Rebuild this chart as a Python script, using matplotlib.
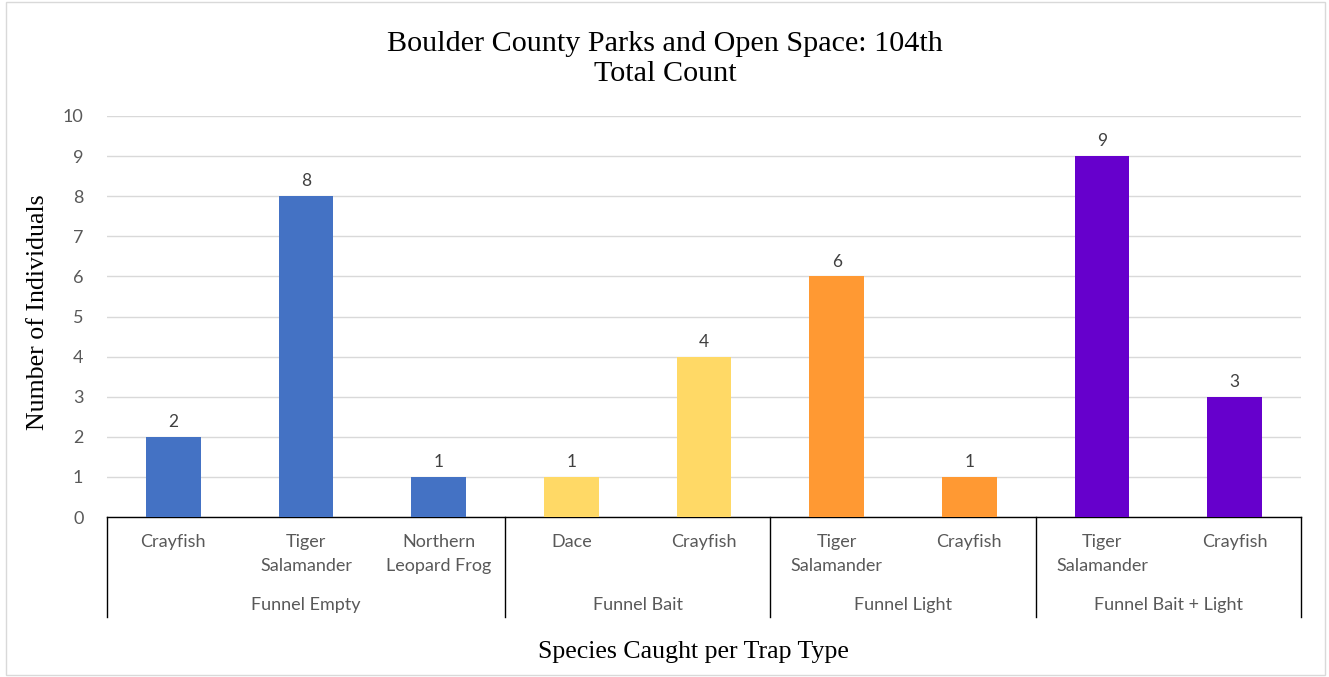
import matplotlib
matplotlib.use("Agg")
import matplotlib.pyplot as plt
from matplotlib.transforms import blended_transform_factory
from matplotlib.lines import Line2D
from matplotlib.patches import Rectangle

species = ["Crayfish", "Tiger\nSalamander", "Northern\nLeopard Frog",
           "Dace", "Crayfish",
           "Tiger\nSalamander", "Crayfish",
           "Tiger\nSalamander", "Crayfish"]
counts = [2, 8, 1, 1, 4, 6, 1, 9, 3]
groups = ["Funnel Empty", "Funnel Bait", "Funnel Light", "Funnel Bait + Light"]
group_sizes = [3, 2, 2, 2]
group_colors = ["#4472C4", "#FFD966", "#FF9933", "#6600CC"]

W, H = 1329, 677
fig = plt.figure(figsize=(W / 100, H / 100), dpi=100)
fig.patches.append(Rectangle((6 / W, 2 / H), (1325 - 6) / W, (675 - 2) / H,
                             transform=fig.transFigure, fill=False,
                             edgecolor="#D9D9D9", lw=1))

left, right, top, bottom = 107, 1301, 116, 517
ax = fig.add_axes([left / W, 1 - bottom / H, (right - left) / W, (bottom - top) / H])

colors = []
for c, n in zip(group_colors, group_sizes):
    colors += [c] * n
x = list(range(len(counts)))
bars = ax.bar(x, counts, width=0.41, color=colors, zorder=3)
for xi, v in zip(x, counts):
    ax.text(xi, v + 0.17, str(v), ha="center", va="bottom", fontsize=12.5,
            color="#404040", family="Lato")

ax.set_xlim(-0.5, len(counts) - 0.5)
ax.set_ylim(0, 10)
ax.set_yticks(range(0, 11))
ax.yaxis.grid(True, color="#D9D9D9", lw=1, zorder=0)
ax.set_axisbelow(True)
for s in ["top", "right", "left"]:
    ax.spines[s].set_visible(False)
ax.spines["bottom"].set_color("#000000")
ax.spines["bottom"].set_linewidth(1)
ax.tick_params(axis="y", length=0, pad=17, labelsize=13, labelcolor="#595959")
for t in ax.get_yticklabels():
    t.set_family("Lato")
ax.set_xticks([])

tr = blended_transform_factory(ax.transData, fig.transFigure)
for xi, name in zip(x, species):
    ax.text(xi, 1 - 534 / H, name, ha="center", va="top", fontsize=13,
            color="#595959", family="Lato", transform=tr, linespacing=1.65)

start = 0
bounds = [-0.5]
for g, n in zip(groups, group_sizes):
    cx = start + (n - 1) / 2
    ax.text(cx, 1 - 605 / H, g, ha="center", va="center", fontsize=13,
            color="#595959", family="Lato", transform=tr)
    start += n
    bounds.append(start - 0.5)
for b in bounds:
    ax.add_line(Line2D([b, b], [1 - bottom / H, 1 - 617 / H], transform=tr,
                       color="#000000", lw=1, clip_on=False))

fig.text(665 / W, 1 - 59 / H,
         "Boulder County Parks and Open Space: 104th\nTotal Count",
         ha="center", va="center", fontsize=21.7, family="Liberation Serif",
         color="#000000", linespacing=1.22)
fig.text(693 / W, 1 - 652 / H, "Species Caught per Trap Type", ha="center",
         va="center", fontsize=18.6, family="Liberation Serif", color="#000000")
fig.text(38 / W, 1 - 312 / H, "Number of Individuals", ha="center",
         va="center", rotation=90, fontsize=18.6, family="Liberation Serif",
         color="#000000")

fig.savefig("out.png", dpi=100)
